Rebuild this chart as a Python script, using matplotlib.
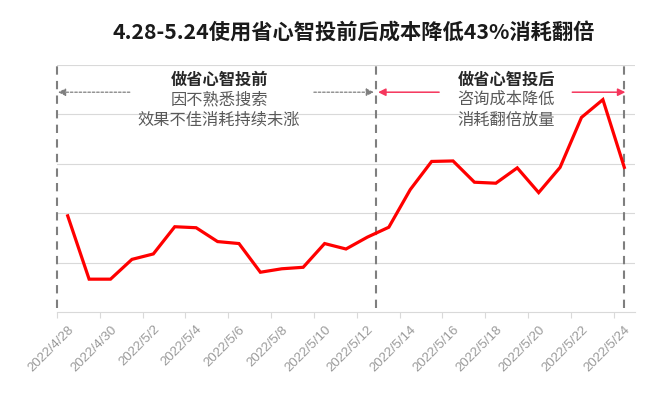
import matplotlib
matplotlib.use("Agg")
import matplotlib.pyplot as plt
import numpy as np

plt.rcParams['font.family'] = ['Noto Sans CJK SC', 'DejaVu Sans']

dates = ["2022/4/28", "2022/4/29", "2022/4/30", "2022/5/1", "2022/5/2", "2022/5/3",
         "2022/5/4", "2022/5/5", "2022/5/6", "2022/5/7", "2022/5/8", "2022/5/9",
         "2022/5/10", "2022/5/11", "2022/5/12", "2022/5/13", "2022/5/14", "2022/5/15",
         "2022/5/16", "2022/5/17", "2022/5/18", "2022/5/19", "2022/5/20", "2022/5/21",
         "2022/5/22", "2022/5/23", "2022/5/24"]
values = [1.95, 0.67, 0.67, 1.07, 1.18, 1.73, 1.71, 1.43, 1.39, 0.81, 0.88, 0.91,
          1.39, 1.28, 1.52, 1.72, 2.48, 3.05, 3.06, 2.63, 2.61, 2.92, 2.42, 2.93,
          3.94, 4.30, 2.93]
title = "4.28-5.24使用省心智投前后成本降低43%消耗翻倍"
before_lines = ["做省心智投前", "因不熟悉搜索", "效果不佳消耗持续未涨"]
after_lines = ["做省心智投后", "咨询成本降低", "消耗翻倍放量"]

fig = plt.figure(figsize=(6.62, 3.98), dpi=100)
ax = fig.add_axes([57/662, 1-312.3/398, 578/662, 247.3/398])
x = np.arange(len(values))
ax.plot(x, values, color='#ff0000', lw=2.3, solid_joinstyle='miter', zorder=3)

ax.set_xlim(-0.5, 26.5)
ax.set_ylim(0, 5)
ax.set_yticks([1, 2, 3, 4, 5])
ax.yaxis.grid(True, color='#d9d9d9', lw=0.8)
ax.tick_params(axis='y', length=0, labelleft=False)
for s in ['left', 'right', 'top']:
    ax.spines[s].set_visible(False)
ax.spines['bottom'].set_color('#d9d9d9')
ax.spines['bottom'].set_linewidth(0.8)

ax.set_xticks(x[::2])
ax.set_xticklabels(dates[::2], rotation=45, ha='right', va='top',
                   rotation_mode='anchor', fontsize=9.6, color='#9a9a9a',
                   family=['Liberation Sans', 'DejaVu Sans'])
ax.tick_params(axis='x', which='major', length=0, pad=8)
ax.set_xticks(np.arange(-0.5, 26, 2), minor=True)
ax.tick_params(axis='x', which='minor', length=4, color='#d9d9d9', width=0.8)

# vertical dashed separators
for xv in [-0.5, 14.4, 26.0]:
    ax.plot([xv, xv], [0.08, 5.0], color='#7f7f7f', lw=1.5, ls=(0, (4, 3)),
            clip_on=False, zorder=2)

# annotations
ya = 4.45
gray_props = dict(arrowstyle='-|>', color='#7f7f7f', lw=0.9, ls=(0, (2, 1.5)),
                  mutation_scale=11, shrinkA=0, shrinkB=0)
ax.annotate("", xy=(-0.45, ya), xytext=(2.9, ya), arrowprops=gray_props,
            annotation_clip=False)
ax.annotate("", xy=(14.3, ya), xytext=(11.5, ya), arrowprops=gray_props)
red_props = dict(arrowstyle='-|>', color='#f5365c', lw=1.1,
                 mutation_scale=11, shrinkA=0, shrinkB=0)
ax.annotate("", xy=(14.5, ya), xytext=(17.35, ya), arrowprops=red_props)
ax.annotate("", xy=(26.05, ya), xytext=(23.57, ya), arrowprops=red_props)

ys = [4.71, 4.30, 3.88]
for cx, lines in [(7.07, before_lines), (20.48, after_lines)]:
    for i, (t, yy) in enumerate(zip(lines, ys)):
        ax.text(cx, yy, t, ha='center', va='center', fontsize=11.7,
                color='#262626' if i == 0 else '#595959',
                fontweight='bold' if i == 0 else 'normal', zorder=4)

fig.text(354/662, 1-33/398, title, ha='center', va='center', fontsize=15.3,
         fontweight='bold', color='#1a1a1a')

fig.savefig("out.png", dpi=100)
